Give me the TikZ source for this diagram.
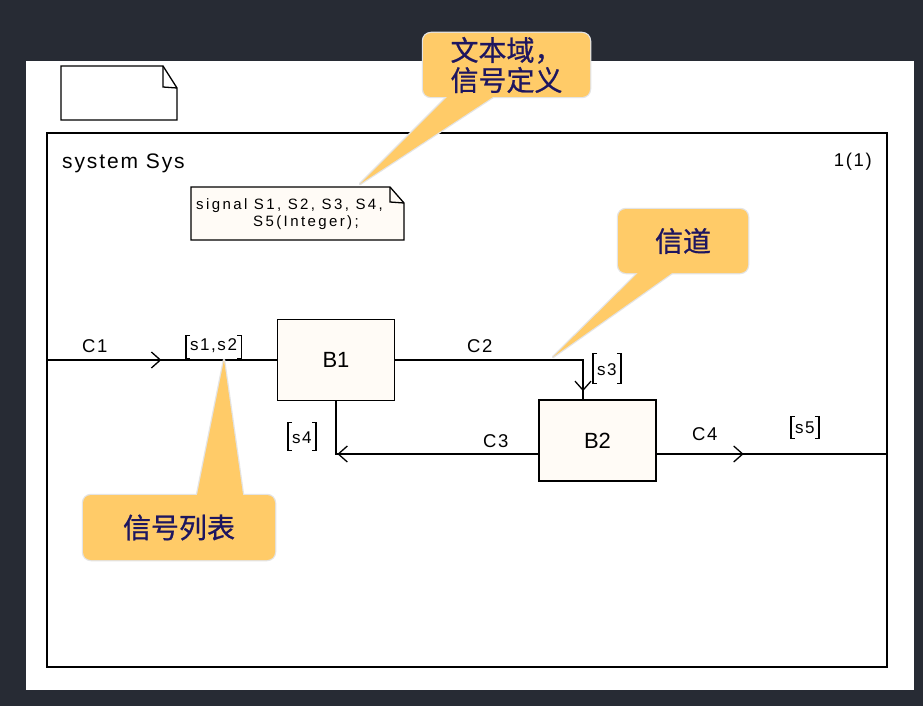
\documentclass[tikz,border=0pt]{standalone}
\usepackage{fontspec}
\usetikzlibrary{arrows.meta,decorations.markings}
\newfontfamily\sdl[LetterSpace=9]{Liberation Sans}
\newfontfamily\sdlw[LetterSpace=16]{Liberation Sans}
\newfontfamily\sdlb{Liberation Sans}
\newfontfamily\cjk[FakeBold=0.8]{Noto Sans CJK SC}
\definecolor{bgdark}{HTML}{272B34}
\definecolor{callfill}{HTML}{FFCB68}
\definecolor{callrim}{HTML}{E4E4E4}
\definecolor{callink}{HTML}{1E1660}
\definecolor{boxfill}{HTML}{FFFBF6}
\newcommand\sigbrackets[1]{%
  \draw[sdlline] ([xshift=4pt]#1.north west) -- (#1.north west) -- (#1.south west) -- ([xshift=4pt]#1.south west);
  \draw[sdlline] ([xshift=-4pt]#1.north east) -- (#1.north east) -- (#1.south east) -- ([xshift=-4pt]#1.south east);}
\begin{document}
\begin{tikzpicture}[x=1pt,y=-1pt,
  sdlline/.style={line width=1.3pt, draw=black},
  block/.style={draw, line width=1.3pt, fill=boxfill, minimum width=117pt, minimum height=81pt, inner sep=0pt, font=\sdlb\fontsize{22}{24}\selectfont},
  lbl/.style={inner sep=0pt, anchor=base west, font=\sdl\fontsize{18.5}{20}\selectfont},
  sigtext/.style={inner sep=0pt, anchor=base west, font=\sdlw\fontsize{15}{17}\selectfont},
  siglist/.style={inner xsep=4pt, inner ysep=0pt, anchor=base west, font=\sdl\fontsize{17}{19}\selectfont},
  callbox/.style={fill=callfill, rounded corners=8pt, inner sep=0pt, preaction={draw=callrim, line width=2.5pt},
    text=callink, font=\cjk\fontsize{28}{30}\selectfont, align=center},
  callhalo/.style={draw=callrim, line width=2.5pt, line join=round},
  chev/.style={postaction=decorate, decoration={markings, mark=at position #1 with {\arrow{Straight Barb[length=9pt,width=16pt,line width=1.3pt]}}}}
]
\useasboundingbox (0,0) rectangle (923,706);
\fill[bgdark] (0,0) rectangle (923,706);
\fill[white] (26,61) rectangle (914,690);

% page icon
\draw[line width=1.3pt, fill=white] (61,66) -- (163,66) -- (177,88) -- (177,120) -- (61,120) -- cycle;
\draw[line width=1.3pt] (163,66) -- (163,87) -- (177,88);

% frame
\node[draw, line width=1.3pt, minimum width=840pt, minimum height=534pt, inner sep=0pt] (frame) at (467,400) {};
\node[lbl, font=\sdl\fontsize{21}{23}\selectfont] (sysname) at (62,168) {system Sys};
\node[lbl, anchor=base east] (pagenum) at (872,166) {1(1)};

% text area
\draw[line width=1.3pt, fill=boxfill] (191,187) -- (390,187) -- (404,203) -- (404,240) -- (191,240) -- cycle;
\draw[line width=1.3pt] (390,187) -- (390,202) -- (404,203);
\node[sigtext] (sigl1) at (196,209) {signal S1, S2, S3, S4,};
\node[sigtext] (sigl2) at (253,226) {S5(Integer);};

% blocks
\node[block] (B1) at (336,360) {B1};
\node[block] (B2) at (597.5,440.5) {B2};
\coordinate (c3s) at ([yshift=-13.5pt]B2.west);
\coordinate (c4s) at ([yshift=-13.5pt]B2.east);

% channels
\draw[sdlline, chev=115pt] (frame.west |- B1.west) -- (B1.west);
\draw[sdlline, chev=219pt] (B1.east) -| ([xshift=-14.5pt]B2.north);
\draw[sdlline, chev=201pt] (c3s) -| (B1.south);
\draw[sdlline, chev=87pt] (c4s) -- (frame.east |- c4s);

\node[lbl] (C1) at (82,352) {C1};
\node[lbl] (C2) at (467,352) {C2};
\node[lbl] (C3) at (483,447) {C3};
\node[lbl] (C4) at (692,440) {C4};

% signal lists
\node[siglist, text height=14pt, text depth=8pt] (L12) at (186,350) {s1,s2};
\sigbrackets{L12}
\node[siglist, text height=21pt, text depth=8pt] (L3) at (593,375) {s3};
\sigbrackets{L3}
\node[siglist, text height=20pt, text depth=7pt] (L4) at (288,443) {s4};
\sigbrackets{L4}
\node[siglist, text height=16pt, text depth=5pt] (L5) at (791,433) {s5};
\sigbrackets{L5}

% callouts
\path[callhalo] (451,93) -- (360,184) -- (499,93) -- cycle;
\node[callbox, minimum width=167pt, minimum height=64pt] (cb1) at (506.5,65) {};
\fill[callfill] (451,93) -- (360,184) -- (499,93) -- cycle;
\node[inner sep=0pt, text=callink, font=\cjk\fontsize{28}{30}\selectfont, align=left] (cb1t) at (506.5,65) {文本域，\\信号定义};

\path[callhalo] (642,269) -- (553,357) -- (677.7,269) -- cycle;
\node[callbox, minimum width=130pt, minimum height=64pt] (cb2) at (683,241) {信道};
\fill[callfill] (642,269) -- (553,357) -- (677.7,269) -- cycle;

\path[callhalo] (196.2,499) -- (224,360) -- (243.6,499) -- cycle;
\node[callbox, minimum width=192pt, minimum height=65pt] (cb3) at (179,527.5) {信号列表};
\fill[callfill] (196.2,499) -- (224,360) -- (243.6,499) -- cycle;
\end{tikzpicture}
\end{document}
